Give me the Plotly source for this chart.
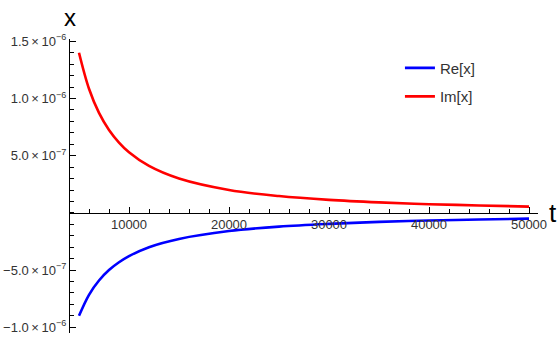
import plotly.graph_objects as go

# t values
t = [5000, 6000, 7000, 8000, 9000, 10000, 12000, 15000, 20000,
     25000, 30000, 35000, 40000, 45000, 50000]
re_x = [-0.90e-6, -0.716e-6, -0.591e-6, -0.50e-6, -0.432e-6, -0.378e-6,
        -0.30e-6, -0.228e-6, -0.159e-6, -0.12e-6, -0.096e-6, -0.079e-6,
        -0.067e-6, -0.058e-6, -0.05e-6]
im_x = [1.40e-6, 1.085e-6, 0.874e-6, 0.725e-6, 0.615e-6, 0.53e-6,
        0.41e-6, 0.30e-6, 0.20e-6, 0.147e-6, 0.114e-6, 0.092e-6,
        0.076e-6, 0.065e-6, 0.055e-6]

x_ticks = [10000, 20000, 30000, 40000, 50000]
x_ticktext = ["10000", "20000", "30000", "40000", "50000"]
y_ticks = [1.5e-6, 1.0e-6, 5.0e-7, -5.0e-7, -1.0e-6]
y_ticktext = ["1.5\u2009×\u200910<sup>−6</sup>", "1.0\u2009×\u200910<sup>−6</sup>",
              "5.0\u2009×\u200910<sup>−7</sup>", "−5.0\u2009×\u200910<sup>−7</sup>",
              "−1.0\u2009×\u200910<sup>−6</sup>"]

x_range = [4100, 50900]
y_range = [-1.05e-6, 1.52e-6]

font = "Liberation Sans, Arial, sans-serif"

fig = go.Figure()
fig.add_trace(go.Scatter(x=t, y=re_x, mode="lines", name="Re[x]", legendgroup="re",
                         line=dict(color="rgb(0,0,255)", width=2.6, shape="spline")))
fig.add_trace(go.Scatter(x=t, y=im_x, mode="lines", name="Im[x]", legendgroup="im",
                         line=dict(color="rgb(255,0,0)", width=2.6, shape="spline")))

# x axis crosses at y = 0
x_pos = (0 - y_range[0]) / (y_range[1] - y_range[0])

fig.update_layout(
    width=557, height=339,
    margin=dict(l=70, r=19, t=39, b=6),
    plot_bgcolor="white", paper_bgcolor="white",
    font=dict(family=font, size=13, color="#333333"),
    xaxis=dict(
        range=x_range, anchor="free", position=x_pos, automargin=False,
        showgrid=False, zeroline=False,
        showline=True, linecolor="black", linewidth=1,
        tickvals=x_ticks, ticktext=x_ticktext,
        ticks="inside", ticklen=6, tickcolor="black",
        minor=dict(ticks="inside", ticklen=3.5, dtick=2000, tick0=0, tickcolor="black"),
        tickfont=dict(size=13, color="#333333"),
    ),
    yaxis=dict(
        range=y_range, automargin=False,
        showgrid=False, zeroline=False,
        showline=True, linecolor="black", linewidth=1,
        tickvals=y_ticks, ticktext=y_ticktext,
        ticks="inside", ticklen=6, tickcolor="black",
        minor=dict(ticks="inside", ticklen=3.5, dtick=1e-7, tick0=0, tickcolor="black"),
        tickfont=dict(size=13, color="#333333"),
    ),
    legend=dict(x=0.705, y=0.957, xanchor="left", yanchor="top",
                bgcolor="rgba(0,0,0,0)", font=dict(size=15, color="#333333"),
                tracegroupgap=6, itemwidth=30),
    showlegend=True,
    annotations=[
        dict(text="x", xref="paper", yref="paper", x=0, y=1.0, yshift=6,
             xanchor="center", yanchor="bottom", showarrow=False,
             font=dict(size=24, color="black", family=font)),
        dict(text="t", xref="paper", yref="paper", x=1.0, xshift=9, y=x_pos,
             xanchor="left", yanchor="middle", showarrow=False,
             font=dict(size=26, color="black", family=font)),
    ],
)

# drop the browser's default 8px body margin so the figure fills the window
fig.write_html("out.html", config={"displayModeBar": False},
               post_script="document.body.style.margin='0';")
